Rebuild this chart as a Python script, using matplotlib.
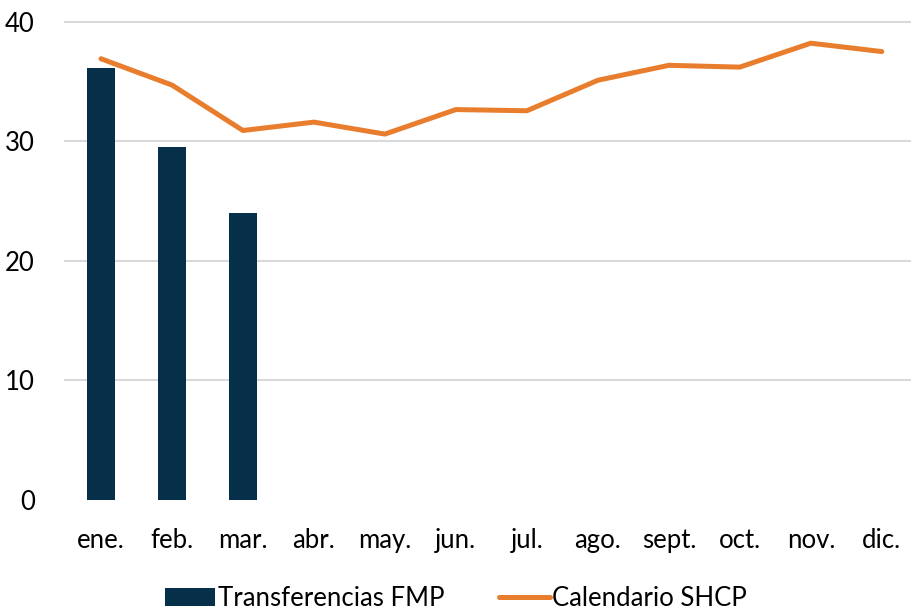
import numpy as np
import matplotlib.pyplot as plt

plt.rcParams['font.family'] = ['Lato', 'DejaVu Sans']

meses = ['ene.', 'feb.', 'mar.', 'abr.', 'may.', 'jun.', 'jul.', 'ago.', 'sept.', 'oct.', 'nov.', 'dic.']
transferencias_fmp = [36.1, 29.5, 24.0]
calendario_shcp = [36.9, 34.7, 30.9, 31.6, 30.6, 32.65, 32.55, 35.1, 36.35, 36.2, 38.2, 37.5]

color_barra = '#06304a'
color_linea = '#e87e2d'

fig = plt.figure(figsize=(9.12, 6.14), dpi=100)
ax = fig.add_axes([0.0718, 0.1857, 0.934, 0.779])

x = np.arange(len(meses))
barras = ax.bar(x[:len(transferencias_fmp)], transferencias_fmp, width=0.39, color=color_barra,
                label='Transferencias FMP', zorder=2)
linea, = ax.plot(x, calendario_shcp, color=color_linea, lw=3.6, solid_capstyle='round',
                 label='Calendario SHCP', zorder=3)

ax.set_xlim(-0.5, 11.5)
ax.set_ylim(0, 40)
ax.set_yticks([0, 10, 20, 30, 40])
ax.set_xticks(x)
ax.set_xticklabels(meses)
for y in [10, 20, 30, 40]:
    ax.axhline(y, color='#d9d9d9', lw=1.5, zorder=1, clip_on=False)

for s in ax.spines.values():
    s.set_visible(False)
ax.tick_params(axis='both', length=0, labelsize=18.5, colors='black')
ax.tick_params(axis='x', pad=20)
ax.tick_params(axis='y', pad=22)

fig.legend([barras, linea], ['Transferencias FMP', 'Calendario SHCP'],
           loc='center', bbox_to_anchor=(0.5, 0.025), ncol=2, frameon=False,
           fontsize=18.5, handlelength=1.95, handletextpad=0.1, columnspacing=2.15)

fig.savefig('out.png', dpi=100)
